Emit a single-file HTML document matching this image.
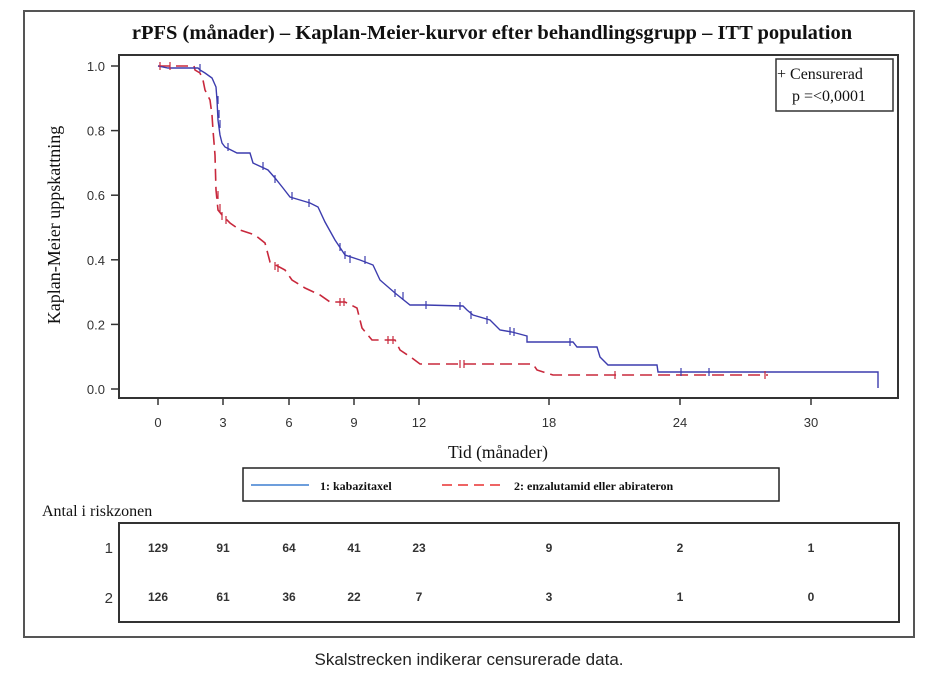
<!DOCTYPE html>
<html><head><meta charset="utf-8"><style>
html,body{margin:0;padding:0;background:#fff;}
svg{display:block;}
.t{font-family:"Liberation Serif",serif;fill:#111;}
.s{font-family:"Liberation Sans",sans-serif;fill:#333;}
</style></head><body>
<svg width="940" height="695" viewBox="0 0 940 695" xmlns="http://www.w3.org/2000/svg">
<rect x="24" y="11" width="890" height="626" fill="none" stroke="#555" stroke-width="2"/>
<text class="t" x="492" y="39" font-size="20.5" font-weight="bold" text-anchor="middle">rPFS (månader) – Kaplan-Meier-kurvor efter behandlingsgrupp – ITT population</text>
<rect x="119" y="55" width="779" height="343" fill="none" stroke="#333" stroke-width="2"/>
<g stroke="#333" stroke-width="1.5">
<line x1="111" y1="66" x2="119" y2="66"/><line x1="111" y1="130.6" x2="119" y2="130.6"/>
<line x1="111" y1="195.2" x2="119" y2="195.2"/><line x1="111" y1="259.8" x2="119" y2="259.8"/>
<line x1="111" y1="324.4" x2="119" y2="324.4"/><line x1="111" y1="389" x2="119" y2="389"/>
<line x1="158" y1="398" x2="158" y2="405"/><line x1="223" y1="398" x2="223" y2="405"/>
<line x1="289" y1="398" x2="289" y2="405"/><line x1="354" y1="398" x2="354" y2="405"/>
<line x1="419" y1="398" x2="419" y2="405"/><line x1="549" y1="398" x2="549" y2="405"/>
<line x1="680" y1="398" x2="680" y2="405"/><line x1="811" y1="398" x2="811" y2="405"/>
</g>
<g class="s" font-size="13" text-anchor="end">
<text x="105" y="71">1.0</text><text x="105" y="135.6">0.8</text><text x="105" y="200.2">0.6</text>
<text x="105" y="264.8">0.4</text><text x="105" y="329.4">0.2</text><text x="105" y="394">0.0</text>
</g>
<g class="s" font-size="13" text-anchor="middle">
<text x="158" y="427">0</text><text x="223" y="427">3</text><text x="289" y="427">6</text><text x="354" y="427">9</text>
<text x="419" y="427">12</text><text x="549" y="427">18</text><text x="680" y="427">24</text><text x="811" y="427">30</text>
</g>
<text class="t" x="498" y="458" font-size="17.5" text-anchor="middle">Tid (månader)</text>
<text class="t" font-size="18" text-anchor="middle" transform="translate(60,225) rotate(-90)">Kaplan-Meier uppskattning</text>
<rect x="776" y="59" width="117" height="52" fill="#fff" stroke="#333" stroke-width="1.5"/>
<text class="t" x="777" y="79" font-size="16">+ Censurerad</text>
<text class="t" x="792" y="101" font-size="16">p =&lt;0,0001</text>
<polyline fill="none" stroke="#c8283c" stroke-width="1.6" stroke-dasharray="12 6" points="158,66 194,66 195,70 200,73 203,80 205,90 210,100 212,115 213,130 215,155 216,190 218,210 222,215 230,223 240,230 255,235 265,243 270,262 285,270 292,280 305,288 320,295 330,302 345,302 357,308 362,328 372,340 395,340 400,350 412,358 420,364 533,364 537,370 553,375 768,375"/>
<polyline fill="none" stroke="#3c3cae" stroke-width="1.4" points="158,66 168,68 198,68 200,70 205,73 212,78 216,87 217,100 218,120 220,135 222,143 225,147 237,153 250,153 253,163 268,170 275,178 283,188 290,197 300,200 310,203 318,207 325,222 335,240 345,255 360,260 373,265 380,280 395,293 410,305 425,305 463,306 467,310 473,315 490,320 500,330 512,332 527,336 527,342 573,342 577,347 597,347 600,357 608,365 657,365 658,372 878,372 878,388"/>
<g stroke="#3c3cae" stroke-width="1.2">
<path d="M200,64v8M218,96v8M219,110v8M220,120v8M228,143v8M263,162v8M275,175v8M292,192v8M309,199v8M340,243v8M345,251v8M350,255v8M365,256v8M395,289v8M403,292v8M426,301v8M460,302v8M471,311v8M487,316v8M510,327v8M514,328v8M570,338v8M681,368v8M709,368v8"/>
</g>
<g stroke="#c8283c" stroke-width="1.2">
<path d="M160,62v8M170,62v8M218,191v8M220,204v8M222,212v8M226,216v8M275,262v8M278,264v8M340,298v8M344,298v8M388,336v8M393,336v8M460,360v8M464,360v8M615,371v8M765,371v8"/>
</g>
<rect x="243" y="468" width="536" height="33" fill="#fff" stroke="#222" stroke-width="1.5"/>
<line x1="251" y1="485" x2="309" y2="485" stroke="#3d7fd0" stroke-width="1.5"/>
<text class="t" x="320" y="490" font-size="12" font-weight="bold">1: kabazitaxel</text>
<line x1="442" y1="485" x2="500" y2="485" stroke="#e83030" stroke-width="1.5" stroke-dasharray="10 6"/>
<text class="t" x="514" y="490" font-size="12" font-weight="bold">2: enzalutamid  eller  abirateron</text>
<text class="t" x="42" y="516" font-size="16">Antal i riskzonen</text>
<rect x="119" y="523" width="780" height="99" fill="none" stroke="#333" stroke-width="2"/>
<g class="s" font-size="15" text-anchor="end"><text x="113" y="553">1</text><text x="113" y="603">2</text></g>
<g class="s" font-size="12" font-weight="bold" text-anchor="middle">
<text x="158" y="552">129</text><text x="223" y="552">91</text><text x="289" y="552">64</text><text x="354" y="552">41</text><text x="419" y="552">23</text><text x="549" y="552">9</text><text x="680" y="552">2</text><text x="811" y="552">1</text>
<text x="158" y="601">126</text><text x="223" y="601">61</text><text x="289" y="601">36</text><text x="354" y="601">22</text><text x="419" y="601">7</text><text x="549" y="601">3</text><text x="680" y="601">1</text><text x="811" y="601">0</text>
</g>
<text x="469" y="665" font-family="Liberation Sans, sans-serif" font-size="17" fill="#222" text-anchor="middle">Skalstrecken indikerar censurerade data.</text>
</svg>
</body></html>
